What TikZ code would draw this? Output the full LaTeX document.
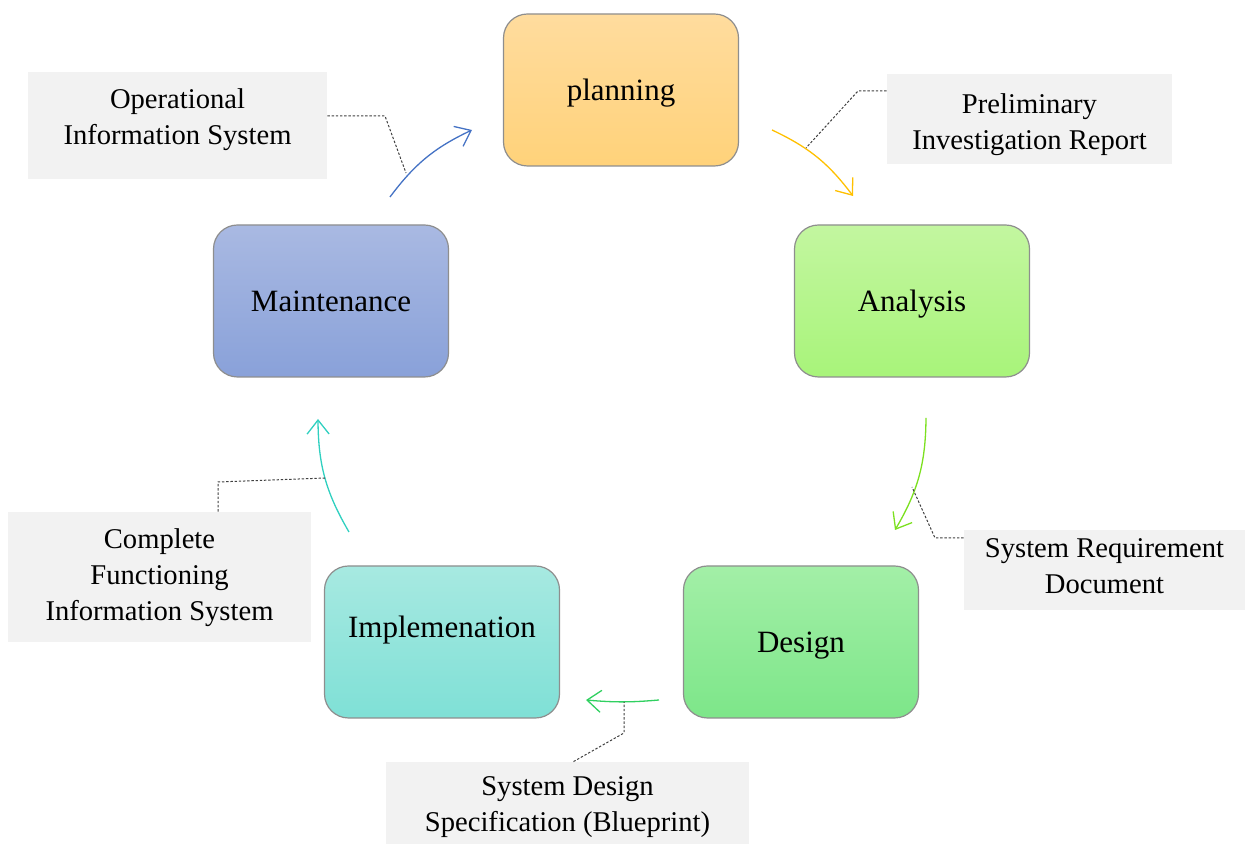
\documentclass[tikz,border=0pt]{standalone}
\usepackage{fontspec}
\setmainfont{Liberation Serif}
\usetikzlibrary{arrows.meta}
\definecolor{planTop}{HTML}{FFDC9E}
\definecolor{planBot}{HTML}{FFD27A}
\definecolor{anaTop}{HTML}{C3F6A0}
\definecolor{anaBot}{HTML}{A8F47A}
\definecolor{desTop}{HTML}{A3EFA7}
\definecolor{desBot}{HTML}{7DE689}
\definecolor{impTop}{HTML}{A7E9E1}
\definecolor{impBot}{HTML}{7FE0D6}
\definecolor{mntTop}{HTML}{A9B9E2}
\definecolor{mntBot}{HTML}{89A1D9}
\definecolor{edgegray}{HTML}{8E8E8E}
\definecolor{notegray}{HTML}{F2F2F2}
\definecolor{arrBlue}{HTML}{4472C4}
\definecolor{arrGold}{HTML}{FFC000}
\definecolor{arrLime}{HTML}{7CE020}
\definecolor{arrGreen}{HTML}{30D060}
\definecolor{arrTeal}{HTML}{30D0C0}
% centred lines, lifted by the optional amount (box size kept)
\newcommand{\notelines}[2][0pt]{\raisebox{#1}[\height][\depth]{\begin{tabular}{@{}c@{}}#2\end{tabular}}}
\tikzset{
  >={Straight Barb[length=7pt,width=11pt]},
  phase/.style={draw=edgegray, line width=0.6pt, rounded corners=12pt,
                minimum width=117.5pt, minimum height=76pt, inner sep=0pt,
                text height=10.5pt, text depth=0pt,
                font=\fontsize{15.5}{18}\selectfont},
  note/.style={fill=notegray, inner sep=0pt,
               font=\fontsize{14.3}{18}\selectfont},
  flow/.style={->, line width=0.65pt},
  leader/.style={draw=black!75, line width=0.5pt, dash pattern=on 1.2pt off 0.9pt},
}

\begin{document}
\begin{tikzpicture}[x=0.5pt, y=0.5pt]
  \useasboundingbox (0,0) rectangle (1248,844);

  % the five phases
  \node[phase, top color=planTop, bottom color=planBot] (plan) at (621,754) {planning};
  \node[phase, top color=anaTop, bottom color=anaBot] (ana) at (912,543) {Analysis};
  \node[phase, top color=desTop, bottom color=desBot] (des) at (801,202) {Design};
  \node[phase, top color=impTop, bottom color=impBot] (imp) at (442,202) {\raisebox{7.5pt}{Implemenation}};
  \node[phase, top color=mntTop, bottom color=mntBot] (mnt) at (331,543) {Maintenance};

  % deliverables
  \node[note, minimum width=149.5pt, minimum height=53.5pt] (opsys) at (177.5,718.5)
    {\notelines[3pt]{Operational\\Information System}};
  \node[note, minimum width=142.5pt, minimum height=45pt] (prelim) at (1029.5,725)
    {\notelines[-2.5pt]{Preliminary\\Investigation Report}};
  \node[note, minimum width=140.5pt, minimum height=40pt] (sysreq) at (1104.5,274)
    {\notelines[0.75pt]{System Requirement\\Document}};
  \node[note, minimum width=181.5pt, minimum height=41pt] (sysdes) at (567.5,41)
    {\notelines[-1.75pt]{System Design\\Specification (Blueprint)}};
  \node[note, minimum width=151.5pt, minimum height=65pt] (complete) at (159.5,267)
    {\notelines{Complete\\Functioning\\Information System}};

  % arrow ends between the phases
  \coordinate (mnt-out) at (390,647);  \coordinate (plan-in) at (472,714);
  \coordinate (plan-out) at (772,714); \coordinate (ana-in) at (853,648);
  \coordinate (ana-out) at (926,426);  \coordinate (des-in) at (895,314);
  \coordinate (des-out) at (659,144);  \coordinate (imp-in) at (586,144);
  \coordinate (imp-out) at (349,312);  \coordinate (mnt-in) at (318,425);

  \draw[flow, arrBlue] (mnt-out) to[bend left=14] (plan-in);
  \draw[flow, arrGold] (plan-out) to[bend left=14] (ana-in);
  \draw[flow, arrLime] (ana-out) to[bend left=15] (des-in);
  \draw[flow, arrGreen] (des-out) to[bend left=5] (imp-in);
  \draw[flow, arrTeal] (imp-out) to[bend left=15] (mnt-in);

  % dotted leaders
  \coordinate (op-k) at (385,728);   \coordinate (op-t) at (406,671);
  \coordinate (pre-k) at (858,753);  \coordinate (pre-t) at (806,696);
  \coordinate (req-k) at (935,306);  \coordinate (req-t) at (912,357);
  \coordinate (sd-k) at (624,111);   \coordinate (sd-t) at (624,142);
  \coordinate (cf-k) at (218,362);   \coordinate (cf-t) at (326,366);

  \draw[leader] (opsys.east |- op-k) -- (op-k) -- (op-t);
  \draw[leader] (prelim.west |- pre-k) -- (pre-k) -- (pre-t);
  \draw[leader] (sysreq.west |- req-k) -- (req-k) -- (req-t);
  \draw[leader] ([xshift=3]sysdes.north) -- (sd-k) -- (sd-t);
  \draw[leader] (complete.north -| cf-k) -- (cf-k) -- (cf-t);
\end{tikzpicture}
\end{document}
